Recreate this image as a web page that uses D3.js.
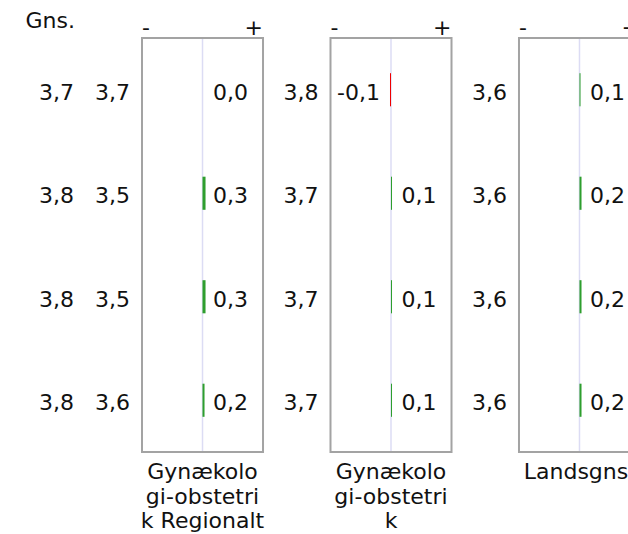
<!DOCTYPE html>
<html>
<head>
<meta charset="utf-8">
<script src="https://cdn.jsdelivr.net/npm/d3@7"></script>
<style>
  html, body { margin: 0; padding: 0; background: #fff; overflow: hidden; }
  svg { display: block; }
  text { font-family: "DejaVu Sans", Verdana, sans-serif; font-size: 22px; fill: #111; }
</style>
</head>
<body>
<svg id="chart" width="628" height="534"></svg>
<script>
// Four questions (rows), the overall average, and three comparison units.
const rows = [0, 1, 2, 3];
const gns = [3.7, 3.8, 3.8, 3.8];
// unit names, with their line breaks under the panels
const units = ["Gynækolo\ngi-obstetri\nk Regionalt", "Gynækolo\ngi-obstetri\nk", "Landsgns."];
const unitScores = [
  [3.7, 3.5, 3.5, 3.6],
  [3.8, 3.7, 3.7, 3.7],
  [3.6, 3.6, 3.6, 3.6]
];
const unitDiffs = [
  [0.0, 0.3, 0.3, 0.2],
  [-0.1, 0.1, 0.1, 0.1],
  [0.1, 0.2, 0.2, 0.2]
];
const headerLabel = "Gns.";
const axisEnds = ["-", "+"];

const locale = d3.formatLocale({ decimal: ",", thousands: ".", grouping: [3], currency: ["", ""], minus: "-" });
const fmt = locale.format(".1f");

const svg = d3.select("#chart");

const panelX = d3.scaleBand().domain(units).range([142, 640]).paddingInner(0.358).paddingOuter(0);
const y = d3.scaleBand().domain(rows).range([38, 452]);
const barH = y.bandwidth() * 0.32;
const bw = panelX.bandwidth();
const baseline = r => y(r) + y.bandwidth() / 2 + 10;

// Overall average column
svg.append("text").attr("x", 75).attr("y", 28).attr("text-anchor", "end").text(headerLabel);
svg.append("g").selectAll("text").data(rows).join("text")
  .attr("x", 74).attr("y", baseline)
  .attr("text-anchor", "end").text(r => fmt(gns[r]));

units.forEach((u, ui) => {
  const left = panelX(u);
  const x = d3.scaleLinear().domain([-6, 6]).range([left, left + bw]);
  const g = svg.append("g");

  // unit scores to the left of the panel
  g.selectAll("text.score").data(rows).join("text")
    .attr("class", "score")
    .attr("x", left - 12).attr("y", baseline)
    .attr("text-anchor", "end").text(r => fmt(unitScores[ui][r]));

  // frame
  g.append("rect").attr("x", left).attr("y", y.range()[0])
    .attr("width", bw).attr("height", y.range()[1] - y.range()[0])
    .attr("fill", "none").attr("stroke", "#a3a3a3").attr("stroke-width", 2);

  // zero line
  g.append("line").attr("x1", x(0)).attr("x2", x(0))
    .attr("y1", y.range()[0] + 1).attr("y2", y.range()[1] - 1)
    .attr("stroke", "#dcdcf4").attr("stroke-width", 1.5);

  // direction markers
  g.append("text").attr("x", left).attr("y", 35).attr("text-anchor", "start").text(axisEnds[0]);
  g.append("text").attr("x", left + bw).attr("y", 35).attr("text-anchor", "end").text(axisEnds[1]);

  // difference bars
  g.selectAll("rect.bar").data(rows).join("rect")
    .attr("class", "bar")
    .attr("x", r => x(Math.min(0, unitDiffs[ui][r])))
    .attr("width", r => Math.abs(x(unitDiffs[ui][r]) - x(0)))
    .attr("y", r => y(r) + (y.bandwidth() - barH) / 2)
    .attr("height", barH)
    .attr("fill", r => unitDiffs[ui][r] < 0 ? "#ee0000" : "#2e9e2e");

  // difference labels
  g.selectAll("text.diff").data(rows).join("text")
    .attr("class", "diff")
    .attr("x", r => unitDiffs[ui][r] < 0 ? x(0) - 11 : x(0) + 10.5)
    .attr("y", baseline)
    .attr("text-anchor", r => unitDiffs[ui][r] < 0 ? "end" : "start")
    .text(r => fmt(unitDiffs[ui][r]));

  // unit name below the panel
  const t = g.append("text").attr("y", 479).attr("text-anchor", "middle");
  u.split("\n").forEach((line, i) => {
    t.append("tspan").attr("x", left + bw / 2).attr("dy", i === 0 ? 0 : 24.5).text(line);
  });
});
</script>
</body>
</html>
